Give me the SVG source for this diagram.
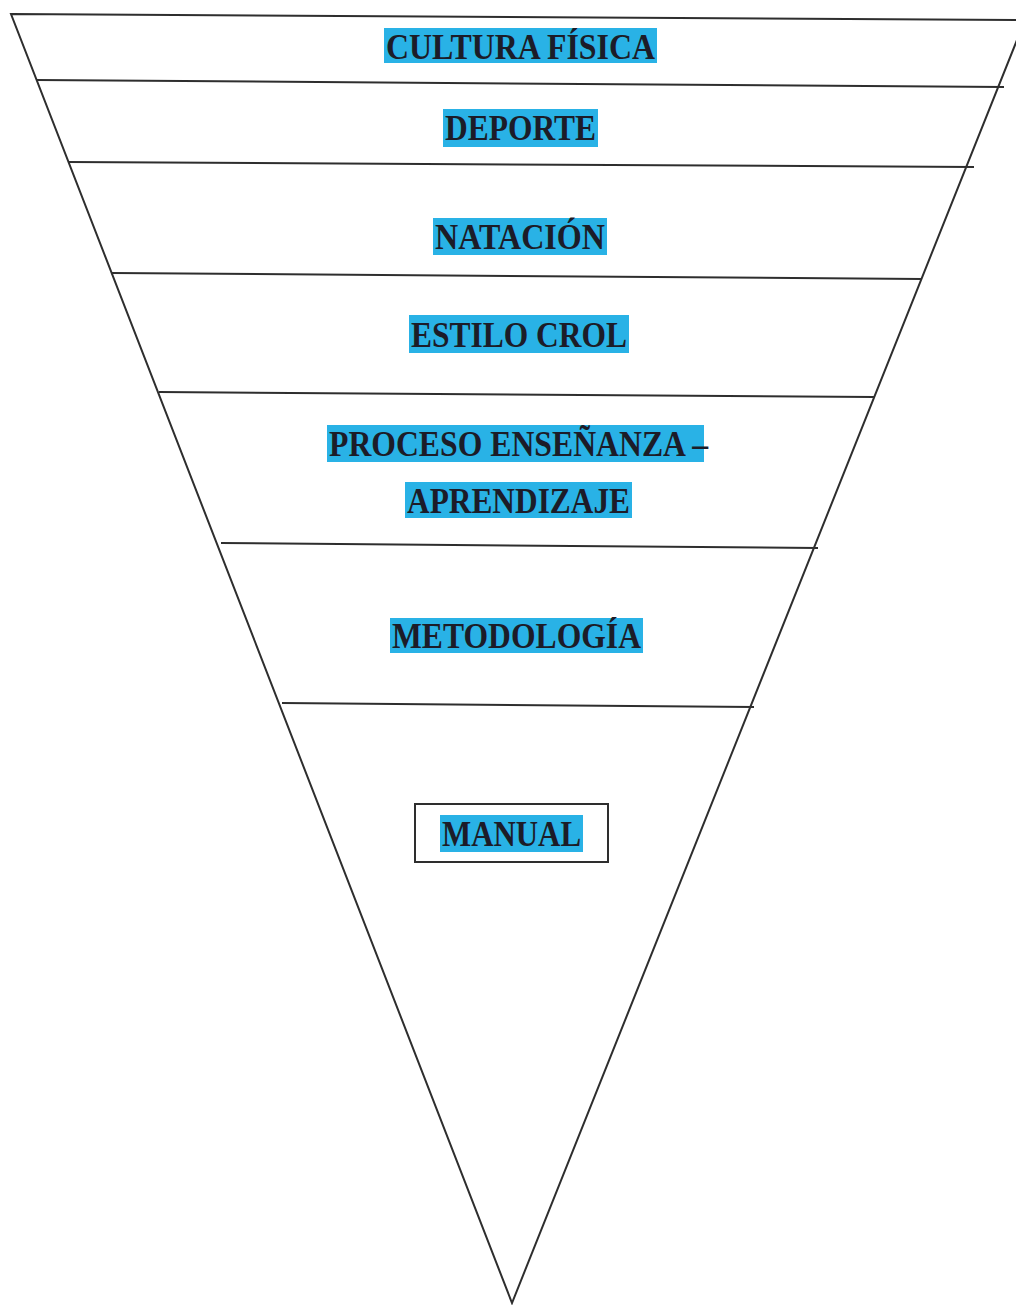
<svg xmlns="http://www.w3.org/2000/svg" width="1016" height="1305" viewBox="0 0 1016 1305">
<style>
.edge{fill:none;stroke:#2e2e2e;stroke-width:2;stroke-linejoin:miter}
.div{stroke:#2e2e2e;stroke-width:2}
.hl{fill:#29b2e6}
.lbl{font-family:"Liberation Serif","Times New Roman",serif;font-weight:bold;font-size:35px;fill:#1c1c28}
.box{fill:none;stroke:#2e2e2e;stroke-width:2}
</style>
<rect width="1016" height="1305" fill="#ffffff"/>
<g id="connectors">
<polygon class="edge" points="11,14 1025,20 512,1303"/>
<line class="div" x1="37" y1="80" x2="1004" y2="87"/>
<line class="div" x1="68" y1="162" x2="974" y2="167"/>
<line class="div" x1="112" y1="273" x2="922" y2="279"/>
<line class="div" x1="159" y1="392" x2="874" y2="397"/>
<line class="div" x1="221" y1="543" x2="818" y2="548"/>
<line class="div" x1="282" y1="703" x2="754" y2="707"/>
</g>
<g id="cultura-fisica">
<rect class="hl" x="384" y="28" width="273" height="35"/>
<text class="lbl" x="386" y="59" textLength="269" lengthAdjust="spacingAndGlyphs">CULTURA FÍSICA</text>
</g>
<g id="deporte">
<rect class="hl" x="443" y="109" width="155" height="38"/>
<text class="lbl" x="445" y="140" textLength="151" lengthAdjust="spacingAndGlyphs">DEPORTE</text>
</g>
<g id="natacion">
<rect class="hl" x="433" y="218" width="174" height="37"/>
<text class="lbl" x="435" y="249" textLength="170" lengthAdjust="spacingAndGlyphs">NATACIÓN</text>
</g>
<g id="estilo-crol">
<rect class="hl" x="409" y="315" width="220" height="38"/>
<text class="lbl" x="411" y="347" textLength="216" lengthAdjust="spacingAndGlyphs">ESTILO CROL</text>
</g>
<g id="proceso-ensenanza-aprendizaje">
<rect class="hl" x="327" y="425" width="377" height="37"/>
<text class="lbl" x="329" y="456" textLength="379" lengthAdjust="spacingAndGlyphs">PROCESO ENSEÑANZA –</text>
<rect class="hl" x="405" y="482" width="227" height="36"/>
<text class="lbl" x="407" y="513" textLength="223" lengthAdjust="spacingAndGlyphs">APRENDIZAJE</text>
</g>
<g id="metodologia">
<rect class="hl" x="390" y="618" width="253" height="35"/>
<text class="lbl" x="392" y="648" textLength="249" lengthAdjust="spacingAndGlyphs">METODOLOGÍA</text>
</g>
<g id="manual">
<rect class="box" x="415" y="804" width="193" height="58"/>
<rect class="hl" x="440" y="815" width="143" height="37"/>
<text class="lbl" x="442" y="846" textLength="139" lengthAdjust="spacingAndGlyphs">MANUAL</text>
</g>
</svg>
